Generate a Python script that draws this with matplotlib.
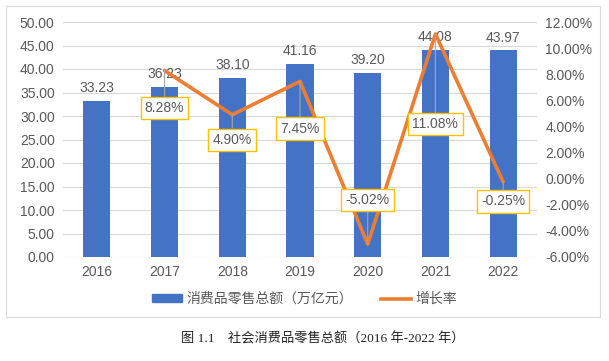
import numpy as np
import matplotlib
matplotlib.use('Agg')
import matplotlib.pyplot as plt
from matplotlib.patches import Patch, Rectangle
from matplotlib.lines import Line2D

plt.rcParams['font.family'] = ['Liberation Sans', 'Noto Sans CJK SC', 'DejaVu Sans']

#%% datos
anios = ['2016', '2017', '2018', '2019', '2020', '2021', '2022']
ventas = [33.23, 36.23, 38.10, 41.16, 39.20, 44.08, 43.97]
anios_tasa = ['2017', '2018', '2019', '2020', '2021', '2022']
tasa = [8.28, 4.90, 7.45, -5.02, 11.08, -0.25]
etiquetas_tasa = ['8.28%', '4.90%', '7.45%', '-5.02%', '11.08%', '-0.25%']
nombre_barras = '消费品零售总额（万亿元）'
nombre_linea = '增长率'
titulo = '图 1.1    社会消费品零售总额（2016 年-2022 年）'

# desplazamiento de las cajas (puntos)
desp = [-27, -18, -34, 32, -65, -14]

azul = '#4472C4'
naranja = '#ED7D31'
gris = '#595959'
rejilla = '#D9D9D9'

#%%
fig = plt.figure(figsize=(6.09, 3.61), dpi=100)
fig.patches.append(Rectangle((6/609, 1-317/361), 594/609, 311/361,
                             transform=fig.transFigure, fill=False,
                             edgecolor=rejilla, linewidth=0.8))
ax = fig.add_axes([63/609, 1-257/361, 474/609, 235/361])
x = np.arange(len(anios))
barras = ax.bar(x, ventas, 0.4, color=azul, zorder=2)
for xi, v in zip(x, ventas):
    ax.annotate('%.2f' % v, (xi, v), xytext=(0, 4), textcoords='offset points',
                ha='center', va='bottom', fontsize=10, color=gris)
ax.set_ylim(0, 50)
ax.set_yticks(np.arange(0, 51, 5))
ax.set_yticklabels(['%.2f' % t for t in np.arange(0, 51, 5)])
ax.set_xlim(-0.5, len(anios) - 0.5)
ax.set_xticks(x)
ax.set_xticklabels(anios)
ax.yaxis.grid(True, color=rejilla, linewidth=0.8, zorder=0)
ax.set_axisbelow(True)
for s in ax.spines.values():
    s.set_visible(False)
ax.tick_params(length=0, labelsize=10, labelcolor=gris, pad=6)

ax2 = ax.twinx()
xt = [anios.index(a) for a in anios_tasa]
ax2.plot(xt, tasa, color=naranja, linewidth=2.6, zorder=3, solid_capstyle='round')
ax2.set_ylim(-6, 12)
ax2.set_yticks(np.arange(-6, 13, 2))
ax2.set_yticklabels(['%.2f%%' % t for t in np.arange(-6, 13, 2)])
for s in ax2.spines.values():
    s.set_visible(False)
ax2.tick_params(length=0, labelsize=10, labelcolor=gris, pad=6)
for xi, v, t, d in zip(xt, tasa, etiquetas_tasa, desp):
    ax2.annotate(t, (xi, v), xytext=(0, d), textcoords='offset points',
                 ha='center', va='center', fontsize=10, color=gris, zorder=5,
                 bbox=dict(boxstyle='square,pad=0.3', fc='white', ec='#FFC000', lw=1),
                 arrowprops=dict(arrowstyle='-', color='#A6A6A6', lw=0.8,
                                 shrinkA=0, shrinkB=0))

handles = [Patch(color=azul), Line2D([0], [0], color=naranja, linewidth=2.6)]
fig.legend(handles, [nombre_barras, nombre_linea], loc='center',
           bbox_to_anchor=(0.5, 1-299/361), ncol=2, frameon=False,
           fontsize=10, labelcolor=gris, handlelength=2.2, handleheight=0.5,
           handletextpad=0.3, columnspacing=2.0)

fig.text(0.53, 1-339/361, titulo, ha='center', va='center', fontsize=9.5,
         color='#222222', family=['Liberation Serif', 'Noto Sans CJK SC'])

fig.savefig('out.png', dpi=100)
